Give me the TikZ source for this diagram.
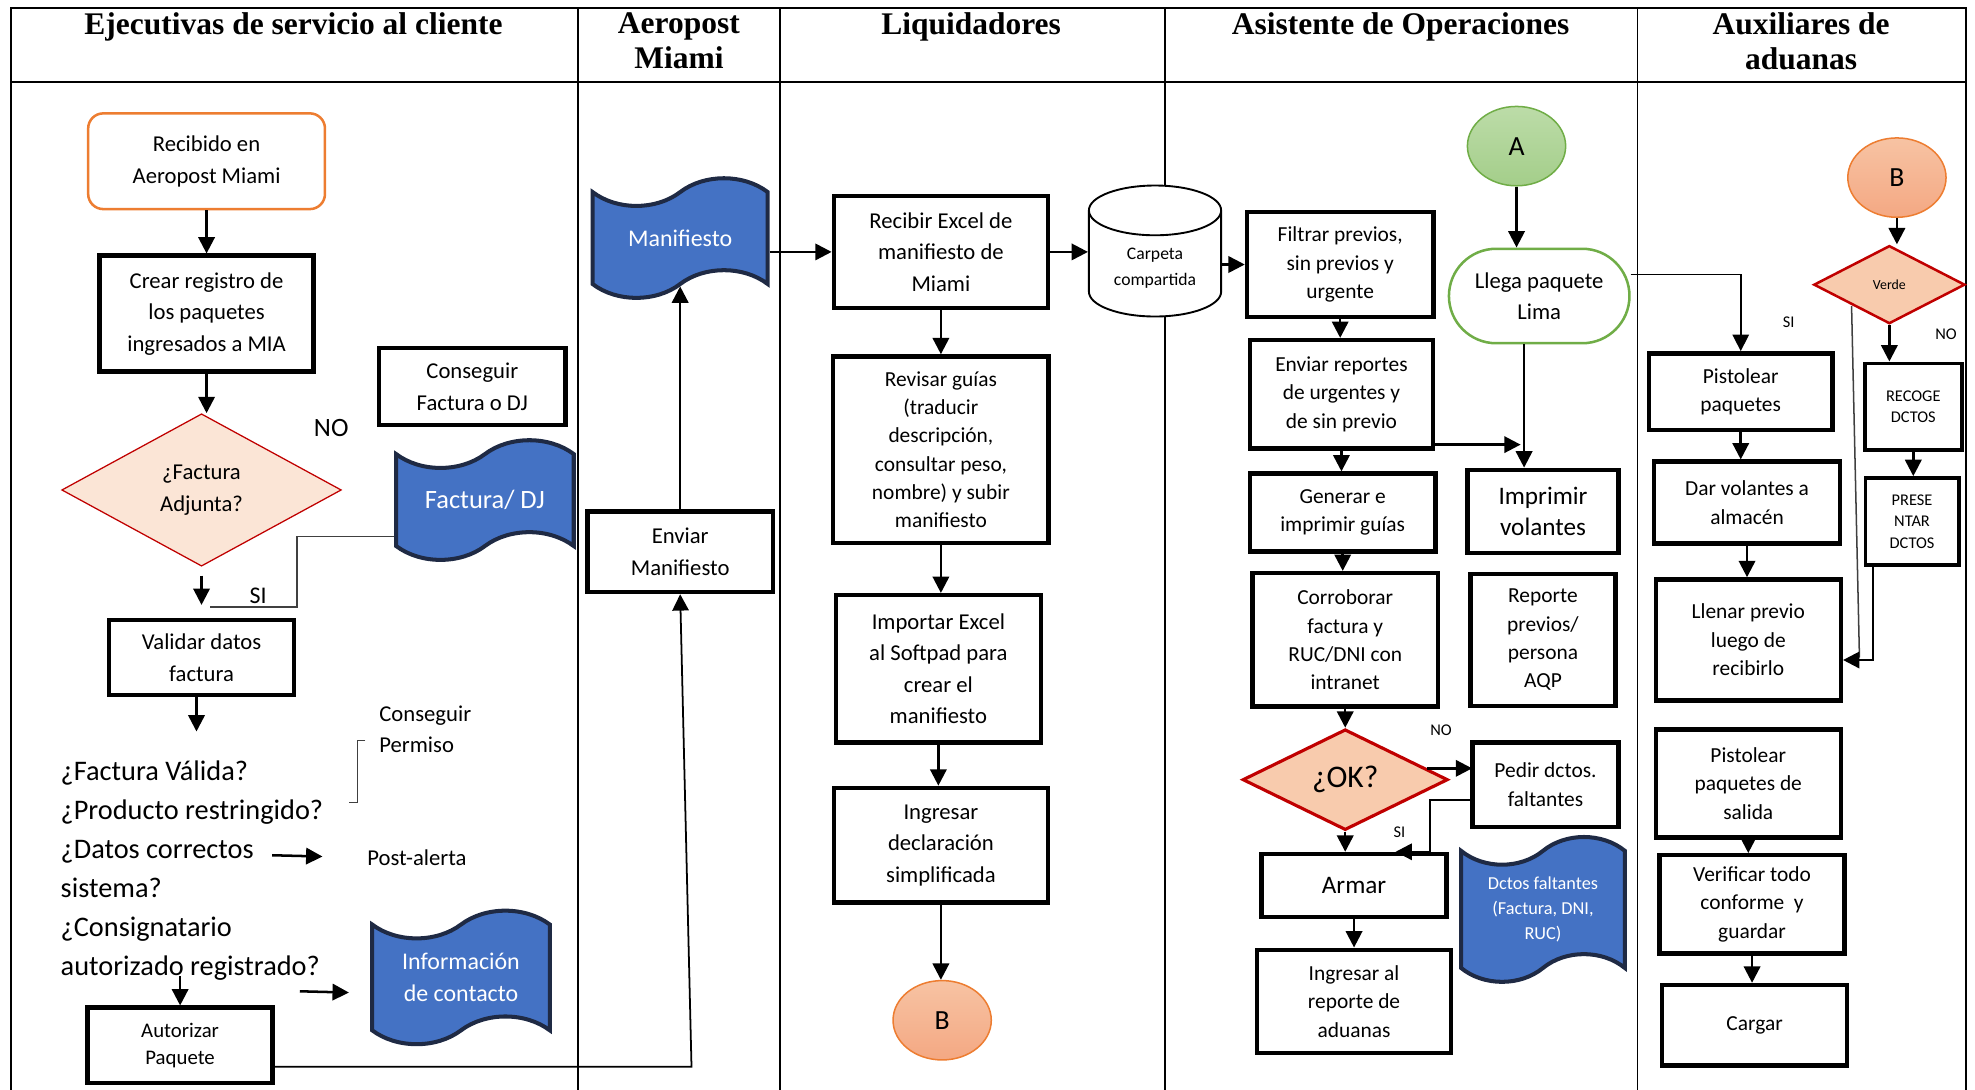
\documentclass[tikz,border=0pt]{standalone}
\usepackage{fontspec}
\setmainfont{Carlito}
\newfontfamily\headfont{Liberation Serif}
\usetikzlibrary{shapes.geometric,shapes.symbols,shapes.misc,arrows.meta}

\definecolor{tapeblue}{HTML}{4472C4}
\definecolor{tapeline}{HTML}{1F2A44}
\definecolor{peach}{HTML}{F8CBAD}
\definecolor{lightpeach}{HTML}{FBE5D6}
\definecolor{decred}{HTML}{C00000}
\definecolor{orangeline}{HTML}{ED7D31}
\definecolor{greenline}{HTML}{70AD47}
\definecolor{peachtop}{HTML}{F7C3A3}
\definecolor{peachbot}{HTML}{F4A883}
\definecolor{greentop}{HTML}{BCDCA8}
\definecolor{greenbot}{HTML}{A4CE8A}

\newcommand{\bigtext}{\fontsize{18}{25}\selectfont}
\newcommand{\smalltext}{\fontsize{17}{22.5}\selectfont}

\tikzstyle{lane}=[draw, line width=1.5pt]
\tikzstyle{lanehead}=[anchor=north, inner sep=0pt, align=center, font=\headfont\bfseries\fontsize{25}{28}\selectfont]
\tikzstyle{process}=[draw, line width=3.5pt, fill=white, align=center, inner sep=1pt, font=\bigtext]
\tikzstyle{small process}=[process, font=\smalltext]
\tikzstyle{terminal}=[draw=orangeline, rounded corners=12pt, line width=2pt, fill=white, align=center, font=\bigtext]
\tikzstyle{decision}=[diamond, aspect=2, draw=decred, fill=peach, line width=2.5pt, align=center, inner sep=0pt]
\tikzstyle{datatape}=[tape, tape bend height=22pt, draw=tapeline, fill=tapeblue, line width=3.2pt, text=white, align=center, inner sep=1pt]
\tikzstyle{link}=[ellipse, inner sep=0pt, minimum width=78pt, minimum height=63pt, line width=1.2pt, font=\fontsize{22}{26}\selectfont]
\tikzstyle{linkB}=[link, draw=orangeline, top color=peachtop, bottom color=peachbot]
\tikzstyle{linkA}=[link, draw=greenline, top color=greentop, bottom color=greenbot]
\tikzstyle{note}=[inner sep=0pt, font=\fontsize{13}{15}\selectfont]
\tikzstyle{flow}=[draw, line width=2pt, -{Triangle[length=13pt, width=13pt]}]
\tikzstyle{thin line}=[draw, line width=1.2pt, black!75]

\begin{document}
\begin{tikzpicture}[x=1pt, y=-1pt]
    \useasboundingbox (0,0) rectangle (1568,864.6);
    \path[lane] (9,865) -- (9,6) -- (1561,6) -- (1561,865);
    \path[lane] (9,65) -- (1561,65);
    \foreach \x in {459,619,925,1300}
        \path[lane] (\x,6) -- (\x,865);
    \foreach \x/\name/\txt in {233/h1/{Ejecutivas de servicio al cliente}, 539/h2/{Aeropost\\Miami}, 771/h3/{Liquidadores}, 1112/h4/{Asistente de Operaciones}, 1430/h5/{Auxiliares de\\aduanas}}
        \node[lanehead] (\name) at (\x,10) {\txt};

    \foreach \pos/\name/\w/\h/\txt in {{(164,249)/crear/170/92/{Crear registro de\\los paquetes\\ingresados a MIA}},
        {(375,307)/consf/148/61/{Conseguir\\Factura o DJ}}, {(160,522)/valid/147/60/{Validar datos\\factura}},
        {(540,438)/envm/147/64/{Enviar\\Manifiesto}}, {(747,200)/recx/170/89/{Recibir Excel de\\manifiesto de\\Miami}},
        {(745,531)/imp/163/117/{Importar Excel\\al Softpad para\\crear el\\manifiesto}},
        {(747,671)/ingd/170/91/{Ingresar\\declaración\\simplificada}}}
        \node[process, minimum width=\w pt, minimum height=\h pt] (\name) at \pos {\txt};
    \foreach \pos/\name/\w/\h/\txt in {{(747,357)/rev/171/148/{Revisar guías\\(traducir\\descripción,\\consultar peso,\\nombre) y subir\\manifiesto}},
        {(1064,210)/filt/148/83/{Filtrar previos,\\sin previos y\\urgente}}, {(1065,313)/envr/145/86/{Enviar reportes\\de urgentes y\\de sin previo}},
        {(1066,407)/gen/147/62/{Generar e\\imprimir guías}}, {(1068,508)/corr/147/106/{Corroborar\\factura y\\RUC/DNI con\\intranet}},
        {(1225,508)/rep/115/105/{Reporte\\previos/\\persona\\AQP}}, {(1227,623)/pedir/116/67/{Pedir dctos.\\faltantes}},
        {(1075,795)/ingr/154/82/{Ingresar al\\reporte de\\aduanas}}, {(1382,311)/pist/146/61/{Pistolear\\paquetes}},
        {(1387,399)/dar/148/65/{Dar volantes a\\almacén}}, {(1388,508)/llen/147/96/{Llenar previo\\luego de\\recibirlo}},
        {(1388,622)/pists/147/86/{Pistolear\\paquetes de\\salida}}, {(1391,718)/verif/147/78/{Verificar todo\\conforme\ \ y\\guardar}},
        {(1393,814)/carg/147/64/{Cargar}}}
        \node[small process, minimum width=\w pt, minimum height=\h pt] (\name) at \pos {\txt};

    \node[terminal, minimum width=188pt, minimum height=76pt] (recv) at (164,128) {Recibido en\\Aeropost Miami};
    \node[decision, fill=lightpeach, line width=1pt, minimum width=222pt, minimum height=121pt, font=\bigtext] (fadj) at (160,389) {¿Factura\\Adjunta?};
    \node[note, font=\fontsize{21}{25}\selectfont] (no1) at (263,340) {NO};
    \node[note, font=\fontsize{19}{25}\selectfont] (si1) at (205,473) {SI};
    \node[datatape, minimum width=141pt, minimum height=95pt, font=\fontsize{21}{25}\selectfont] (factdj) at (385,397) {Factura/ DJ};
    \node[anchor=north west, align=left, inner sep=0pt, font=\fontsize{22.5}{31}\selectfont] (checks) at (48,604)
        {¿Factura Válida?\\¿Producto restringido?\\¿Datos correctos\\sistema?\\¿Consignatario\\autorizado registrado?};
    \node[anchor=north west, align=left, inner sep=0pt, font=\bigtext] (perm) at (301,560) {Conseguir\\Permiso};
    \node[inner sep=0pt, font=\bigtext] (alert) at (331,681) {Post-alerta};
    \node[datatape, minimum width=141pt, minimum height=106pt, font=\fontsize{19}{25}\selectfont] (info) at (366,776) {Información\\de contacto};
    \node[process, minimum width=147pt, minimum height=60pt, font=\fontsize{16.5}{21}\selectfont] (auth) at (143,830) {Autorizar\\Paquete};
    \coordinate (dc) at (216,679);
    \coordinate (ci) at (238,787);
    \coordinate (cp) at (143,775);
    \coordinate (up) at (549,847);

    \node[datatape, minimum width=139pt, minimum height=95pt, font=\fontsize{19}{25}\selectfont] (mani) at (540,189) {Manifiesto};
    \node[cylinder, shape border rotate=90, aspect=0.55, draw, line width=1.5pt, fill=white, align=center, minimum width=105pt, minimum height=104pt, font=\fontsize{14}{20}\selectfont] (carp) at (917,213) {Carpeta\\compartida};
    \node[linkB] (conB1) at (748,810) {B};

    \node[linkA] (conA) at (1204,116) {A};
    \node[rounded rectangle, draw=greenline, line width=2pt, fill=white, align=center, minimum width=150pt, minimum height=75pt, font=\bigtext] (lleg) at (1222,235) {Llega paquete\\Lima};
    \node[process, minimum width=120pt, minimum height=66pt, font=\fontsize{20}{25}\selectfont] (impv) at (1225,406) {Imprimir\\volantes};
    \node[decision, minimum width=163pt, minimum height=80pt, font=\fontsize{25}{28}\selectfont] (ok) at (1068,619) {¿OK?};
    \node[process, minimum width=147pt, minimum height=50pt, font=\fontsize{20}{25}\selectfont] (armar) at (1075,703) {Armar};
    \node[datatape, minimum width=130pt, minimum height=115pt, font=\fontsize{14.5}{20}\selectfont] (dctos) at (1225,722) {Dctos faltantes\\(Factura, DNI,\\RUC)};
    \node[note] (no2) at (1144,580) {NO};
    \node[note] (si2) at (1111,661) {SI};

    \node[linkB] (conB2) at (1506,141) {B};
    \node[decision, line width=2pt, minimum width=120pt, minimum height=62pt, font=\fontsize{11}{13}\selectfont] (verde) at (1500,226) {Verde};
    \node[process, line width=3pt, minimum width=77pt, minimum height=69pt, font=\fontsize{13}{17}\selectfont] (rec) at (1519,323) {RECOGE\\DCTOS};
    \node[process, line width=3pt, minimum width=74pt, minimum height=69pt, font=\fontsize{13}{17}\selectfont] (pres) at (1518,414) {PRESE\\NTAR\\DCTOS};
    \node[note] (si3) at (1420,256) {SI};
    \node[note] (no3) at (1545,265) {NO};

    \foreach \source/\dest in {recv/crear, crear/fadj, recx/rev, rev/imp, imp/ingd, ingd/conB1, conA/lleg, filt/envr, envr/gen, gen/corr, corr/ok, ok/armar, armar/ingr, conB2/verde, rec/pres, pist/dar, dar/llen, pists/verif, verif/carg}
        \path[flow] (\source.south) -- (\source.south |- \dest.north);
    \path[flow] (verde.south) -- (verde.south |- rec.north);
    \path[flow] (envm.north) -- (envm.north |- mani.south);
    \path[flow, shorten <=7pt, shorten >=10pt] (fadj.south) -- (fadj.south |- valid.north);
    \path[thin line] ([yshift=-29pt]factdj.west) -- ++(-77,0) -- ++(0,56) -- ++(-69,0);
    \path[flow] ([xshift=-4pt]valid.south) -- ++(0,27);
    \path[thin line] (290,588) -- ++(-6,0) -- ++(0,49) -- ++(-7,0);
    \path[flow] (dc) -- ++(40,1);
    \path[flow] (ci) -- ++(39,1);
    \path[flow] (cp) -- (auth.north);
    \path[flow, line width=1.4pt] ([yshift=-17pt]auth.east) -- (up) -- (envm.south);
    \path[flow] (mani.east |- recx.west) -- (recx.west);
    \path[flow] (recx.east) -- (recx.east -| carp.west);
    \path[flow] (carp.east |- filt.west) -- (filt.west);
    \path[flow] ([xshift=-12pt]lleg.south) -- ([xshift=-15pt]impv.north);
    \path[flow] ([yshift=-40pt]envr.east) -- ++(68,0);
    \path[flow] ([xshift=-18pt,yshift=9pt]ok.east) -- ++(36,0);
    \path[flow] ([yshift=-12pt]pedir.west) -- ++(-32,0) |- ([xshift=33pt]armar.north);
    \path[flow, line width=1.2pt] ([yshift=17pt]lleg.east) -| (pist.north);
    \path[thin line] ([xshift=-30pt,yshift=-17pt]verde.center) -- ([xshift=13pt,yshift=-14pt]llen.east);
    \path[flow] ([xshift=-31pt]pres.south) |- ([yshift=-16pt]llen.east);
\end{tikzpicture}
\end{document}
